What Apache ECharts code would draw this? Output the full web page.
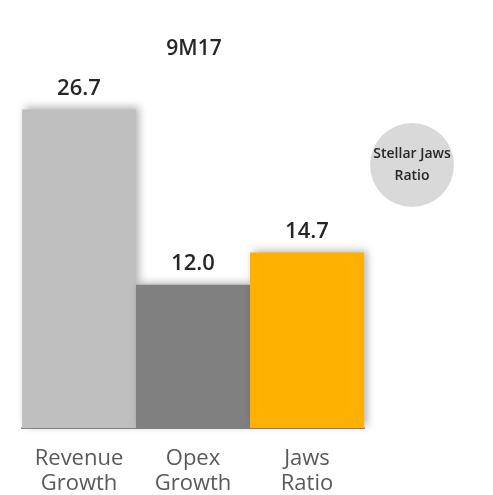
<!DOCTYPE html>
<html>
<head>
<meta charset="utf-8">
<script src="https://cdn.jsdelivr.net/npm/echarts@6/dist/echarts.min.js"></script>
<style>
  html, body { margin: 0; padding: 0; background: #fff; }
  #chart { width: 493px; height: 495px; }
</style>
</head>
<body>
<div id="chart"></div>
<script>
// Nine-month growth comparison
const periodTitle = '9M17';
const categories = ['Revenue\nGrowth', 'Opex\nGrowth', 'Jaws\nRatio'];
const values = [26.7, 12.0, 14.7];
const barColors = ['#bfbfbf', '#808080', '#ffb000'];
const badgeText = 'Stellar Jaws\nRatio';

const FONT = '"Open Sans", "Noto Sans", sans-serif';

const chart = echarts.init(document.getElementById('chart'), null, { renderer: 'canvas' });

chart.setOption({
  animation: false,
  backgroundColor: '#ffffff',
  title: {
    text: periodTitle,
    left: 189,
    top: 34,
    textAlign: 'center',
    textStyle: { fontFamily: FONT, fontSize: 21, fontWeight: 600, color: '#262626' }
  },
  grid: {
    left: 22, right: 129, top: 70, bottom: 67,
    containLabel: false,
    outerBoundsMode: 'none'
  },
  xAxis: {
    type: 'category',
    data: categories,
    axisTick: { show: false },
    axisLine: { show: true, lineStyle: { color: '#8c8c8c', width: 2 } },
    axisLabel: {
      interval: 0,
      margin: 18,
      fontFamily: FONT,
      fontSize: 22,
      lineHeight: 25,
      color: '#595959'
    }
  },
  yAxis: {
    type: 'value',
    min: 0,
    max: 30,
    show: false,
    splitLine: { show: false }
  },
  series: [{
    type: 'bar',
    barWidth: '100%',
    barCategoryGap: '0%',
    data: values.map((v, i) => ({
      value: v,
      itemStyle: {
        color: barColors[i],
        shadowBlur: 8,
        shadowColor: 'rgba(0,0,0,0.3)',
        shadowOffsetX: 3,
        shadowOffsetY: -2
      }
    })),
    label: {
      show: true,
      position: 'top',
      distance: 10,
      formatter: p => p.value.toFixed(1),
      fontFamily: FONT,
      fontSize: 22,
      fontWeight: 600,
      color: '#262626'
    }
  }],
  graphic: [{
    type: 'group',
    left: 370,
    top: 123,
    children: [{
      type: 'circle',
      shape: { cx: 42, cy: 42, r: 42 },
      style: { fill: '#d9d9d9' }
    }, {
      type: 'text',
      x: 42,
      y: 42,
      style: {
        text: badgeText,
        fontFamily: FONT,
        fontSize: 14,
        fontWeight: 600,
        lineHeight: 22,
        fill: '#262626',
        align: 'center',
        verticalAlign: 'middle'
      }
    }]
  }]
});
</script>
</body>
</html>
